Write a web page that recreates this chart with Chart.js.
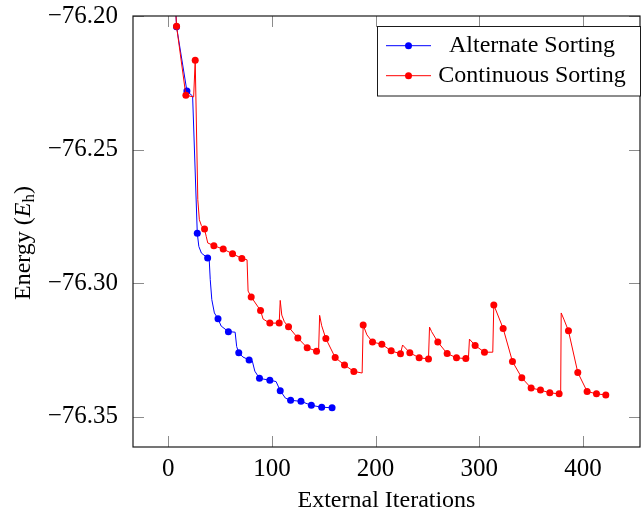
<!DOCTYPE html>
<html>
<head>
<meta charset="utf-8">
<script src="https://cdn.jsdelivr.net/npm/chart.js@4.4.1/dist/chart.umd.min.js"></script>
<style>
  html, body { margin: 0; padding: 0; background: #fff; }
  #wrap { width: 644px; height: 510px; }
</style>
</head>
<body>
<div id="wrap"><canvas id="energyChart" width="644" height="510"></canvas></div>
<script>
// fuente serif parecida a la del original (LaTeX)
const FONT = '"Liberation Serif", "Times New Roman", serif';
const FONT_SIZE = 25;

// ticks de los ejes
const xTicks = [0, 100, 200, 300, 400];
const yTicks = [-76.35, -76.30, -76.25, -76.20];

// Alternate Sorting: iteraciones marcadas
const altIter = [8, 18, 28, 38, 48, 58, 68, 78, 88, 98, 108, 118, 128, 138, 148, 158];
const altEnergy = [-76.2040, -76.2281, -76.2814, -76.2906, -76.3134, -76.3182, -76.3261, -76.3288,
                   -76.3357, -76.3364, -76.3403, -76.3439, -76.3443, -76.3458, -76.3465, -76.3467];
// puntos intermedios de la curva (sin marcador)
const altPathIter = [7, 23.5, 29.5, 32, 39.5, 40.5, 42, 44.5, 51, 64.5, 66, 72, 81, 83.5, 104, 113];
const altPathEnergy = [-76.196, -76.2300, -76.2863, -76.2888, -76.2912, -76.2987, -76.3062, -76.3112,
                       -76.3161, -76.3184, -76.3238, -76.3277, -76.3291, -76.3330, -76.3369, -76.3431];

// Continuous Sorting: iteraciones marcadas
const contIter = [8, 17, 26, 35, 44, 53, 62, 71, 80, 89, 98, 107, 116, 125, 134, 143, 152, 161, 170, 179,
                  188, 197, 206, 215, 224, 233, 242, 251, 260, 269, 278, 287, 296, 305, 314, 323, 332, 341,
                  350, 359, 368, 377, 386, 395, 404, 413, 422];
const contEnergy = [-76.2038, -76.2297, -76.2166, -76.2798, -76.2860, -76.2873, -76.2890, -76.2908,
                    -76.3052, -76.3103, -76.3150, -76.3150, -76.3164, -76.3206, -76.3242, -76.3255,
                    -76.3208, -76.3279, -76.3307, -76.3331, -76.3157, -76.3221, -76.3229, -76.3254,
                    -76.3265, -76.3261, -76.3280, -76.3284, -76.3221, -76.3264, -76.3280, -76.3283,
                    -76.3234, -76.3259, -76.3082, -76.3170, -76.3294, -76.3355, -76.3393, -76.3401,
                    -76.3411, -76.3415, -76.3179, -76.3335, -76.3406, -76.3415, -76.3419];
// puntos intermedios (saltos y decaimientos)
const contPathIter = [7, 24.5, 28.5, 30, 32, 36.6, 38.1, 76, 77, 91.5, 108, 109.5, 112, 145, 146, 148,
                      187, 191.6, 226, 252, 254, 289.5, 290.5, 313, 378.5, 379, 381.5];
const contPathEnergy = [-76.196, -76.2303, -76.2688, -76.2763, -76.2785, -76.2825, -76.2850, -76.2913,
                        -76.3030, -76.3135, -76.3065, -76.3120, -76.3145, -76.3257, -76.3121, -76.3160,
                        -76.3337, -76.3194, -76.3232, -76.3165, -76.3182, -76.3283, -76.3210, -76.3259,
                        -76.3415, -76.3112, -76.3135];

function buildSeries(iters, energies, pathIters, pathEnergies) {
  const marked = iters.map((x, i) => ({ x: x, y: energies[i], mark: true }));
  const path = pathIters.map((x, i) => ({ x: x, y: pathEnergies[i], mark: false }));
  return marked.concat(path).sort((a, b) => a.x - b.x);
}

function fmtEnergy(v) {
  return (v < 0 ? '\u2212' : '') + Math.abs(v).toFixed(2);
}

// marco, ticks hacia dentro, leyenda y título del eje y
const decorPlugin = {
  id: 'decor',
  afterDatasetsDraw(chart) {
    const { ctx, chartArea: a, scales } = chart;
    ctx.save();
    ctx.strokeStyle = '#8c8c8c';
    ctx.lineWidth = 1;
    const len = 11;
    ctx.beginPath();
    xTicks.forEach(v => {
      const px = Math.round(scales.x.getPixelForValue(v)) + 0.5;
      ctx.moveTo(px, a.bottom); ctx.lineTo(px, a.bottom - len);
      ctx.moveTo(px, a.top); ctx.lineTo(px, a.top + len);
    });
    yTicks.forEach(v => {
      const py = Math.round(scales.y.getPixelForValue(v)) + 0.5;
      ctx.moveTo(a.left, py); ctx.lineTo(a.left + len, py);
      ctx.moveTo(a.right, py); ctx.lineTo(a.right - len, py);
    });
    ctx.stroke();

    ctx.strokeStyle = '#1a1a1a';
    ctx.lineWidth = 1.2;
    ctx.strokeRect(a.left, a.top, a.right - a.left, a.bottom - a.top);

    // leyenda
    const box = { x: 377.5, y: 26.5, w: 263, h: 69.5 };
    ctx.fillStyle = '#fff';
    ctx.fillRect(box.x, box.y, box.w, box.h);
    ctx.strokeStyle = '#1a1a1a';
    ctx.lineWidth = 1;
    ctx.strokeRect(box.x, box.y, box.w, box.h);
    const entries = [chart.data.datasets[1], chart.data.datasets[0]];
    entries.forEach((ds, i) => {
      const ly = 45.7 + i * 30;
      ctx.strokeStyle = ds.borderColor;
      ctx.lineWidth = 1;
      ctx.beginPath();
      ctx.moveTo(386, ly); ctx.lineTo(431, ly);
      ctx.stroke();
      ctx.fillStyle = ds.borderColor;
      ctx.beginPath();
      ctx.arc(408.5, ly, 3.5, 0, Math.PI * 2);
      ctx.fill();
      ctx.fillStyle = '#000';
      ctx.font = (FONT_SIZE - 1) + 'px ' + FONT;
      ctx.textAlign = 'center';
      ctx.textBaseline = 'alphabetic';
      ctx.fillText(ds.label, 532, ly + 6.5);
    });
    ctx.restore();
  },
  afterDraw(chart) {
    // título del eje y: Energy (E_h)
    const { ctx } = chart;
    const size = FONT_SIZE - 1;
    const reg = size + 'px ' + FONT;
    const ita = 'italic ' + size + 'px ' + FONT;
    const sub = Math.round(size * 0.7) + 'px ' + FONT;
    const parts = [
      { t: 'Energy (', f: reg, dy: 0 },
      { t: 'E', f: ita, dy: 0 },
      { t: 'h', f: sub, dy: 4 },
      { t: ')', f: reg, dy: 0 }
    ];
    ctx.save();
    let total = 0;
    parts.forEach(p => { ctx.font = p.f; p.w = ctx.measureText(p.t).width; total += p.w; });
    ctx.translate(30, 243);
    ctx.rotate(-Math.PI / 2);
    ctx.fillStyle = '#000';
    ctx.textBaseline = 'alphabetic';
    ctx.textAlign = 'left';
    let x = -total / 2;
    parts.forEach(p => {
      ctx.font = p.f;
      ctx.fillText(p.t, x, p.dy);
      x += p.w;
    });
    ctx.restore();
  }
};

document.addEventListener('DOMContentLoaded', function () {
  const canvas = document.getElementById('energyChart');
  Chart.defaults.color = '#000';
  Chart.defaults.font.family = FONT;
  Chart.defaults.font.size = FONT_SIZE;

  new Chart(canvas, {
    type: 'line',
    data: {
      datasets: [
        {
          label: 'Continuous Sorting',
          data: buildSeries(contIter, contEnergy, contPathIter, contPathEnergy),
          borderColor: '#ff0000',
          backgroundColor: '#ff0000',
          borderWidth: 1,
          tension: 0,
          order: 0,
          pointBorderWidth: 0,
          pointRadius: c => (c.raw && c.raw.mark ? 3.5 : 0)
        },
        {
          label: 'Alternate Sorting',
          data: buildSeries(altIter, altEnergy, altPathIter, altPathEnergy),
          borderColor: '#0000ff',
          backgroundColor: '#0000ff',
          borderWidth: 1,
          tension: 0,
          order: 1,
          pointBorderWidth: 0,
          pointRadius: c => (c.raw && c.raw.mark ? 3.5 : 0)
        }
      ]
    },
    options: {
      responsive: false,
      animation: false,
      devicePixelRatio: 1,
      parsing: false,
      layout: { padding: { top: 16, right: 1, left: 0, bottom: 0 } },
      plugins: {
        legend: { display: false },
        tooltip: { enabled: false }
      },
      scales: {
        x: {
          type: 'linear',
          min: -34,
          max: 455,
          afterFit: s => { s.height = 63; s.paddingLeft = 0; s.paddingRight = 0; },
          afterBuildTicks: s => { s.ticks = xTicks.map(v => ({ value: v })); },
          grid: { display: false, drawTicks: false },
          border: { display: false },
          ticks: { padding: 7, maxRotation: 0, callback: v => String(v) },
          title: {
            display: true,
            text: 'External Iterations',
            font: { size: FONT_SIZE - 1, lineHeight: 1 },
            padding: { top: 0, bottom: -3 }
          }
        },
        y: {
          type: 'linear',
          min: -76.3614,
          max: -76.20,
          afterFit: s => { s.width = 133; s.paddingTop = 0; s.paddingBottom = 0; },
          afterBuildTicks: s => { s.ticks = yTicks.map(v => ({ value: v })); },
          grid: { display: false, drawTicks: false },
          border: { display: false },
          ticks: { padding: 15, callback: v => fmtEnergy(v) }
        }
      }
    },
    plugins: [decorPlugin]
  });
});
</script>
</body>
</html>
